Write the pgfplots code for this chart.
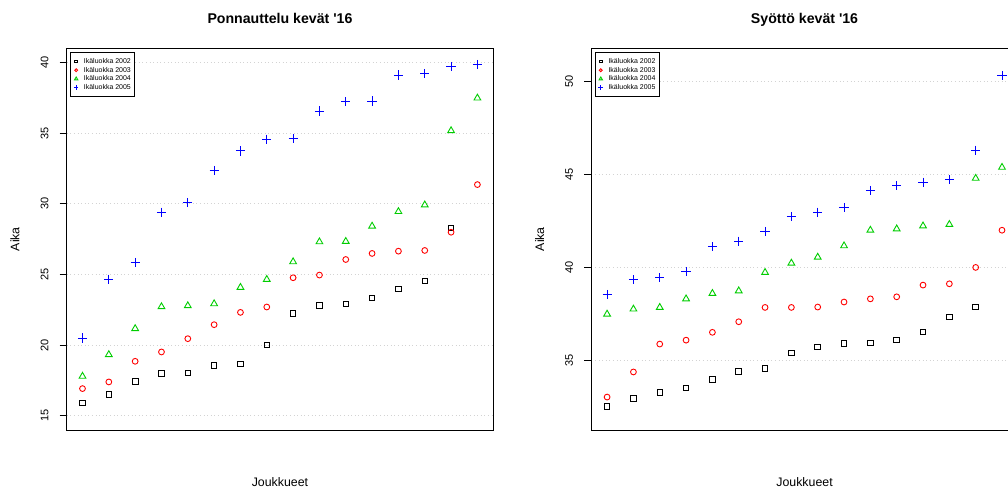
\documentclass[border=0pt]{standalone}
\usepackage{pgfplots}
\usepackage{pgfplotstable}
\pgfplotsset{compat=1.18}
\usepackage{fontspec}
\setmainfont{Liberation Sans}

\definecolor{rgreen}{RGB}{0,205,0}
\definecolor{rblue}{RGB}{0,0,255}
\definecolor{rgrid}{RGB}{211,211,211}

% Ponnauttelu: times per team, one column per age group
\pgfplotstableread{
x  y02   y03   y04   y05
1  15.92 16.93 17.80 20.51
2  16.53 17.40 19.33 24.67
3  17.42 18.86 21.17 25.85
4  18.01 19.52 22.72 29.41
5  18.04 20.46 22.79 30.07
6  18.58 21.45 22.93 32.35
7  18.67 22.32 24.09 33.74
8  20.01 22.70 24.65 34.56
9  22.25 24.77 25.90 34.63
10 22.82 24.96 27.31 36.56
11 22.91 26.06 27.34 37.22
12 23.33 26.49 28.42 37.27
13 23.99 26.65 29.45 39.11
14 24.53 26.70 29.92 39.20
15 28.30 27.99 35.17 39.72
16 nan   31.36 37.48 39.86
}\ponnauttelu

% Syotto: times per team, one column per age group
\pgfplotstableread{
x  y02   y03   y04   y05
1  32.51 33.01 37.47 38.53
2  32.92 34.36 37.74 39.31
3  33.25 35.86 37.83 39.42
4  33.50 36.07 38.29 39.74
5  33.96 36.49 38.58 41.09
6  34.39 37.06 38.72 41.39
7  34.55 37.83 39.71 41.91
8  35.39 37.83 40.21 42.72
9  35.70 37.85 40.53 42.95
10 35.90 38.12 41.14 43.20
11 35.91 38.29 41.98 44.11
12 36.09 38.40 42.05 44.38
13 36.52 39.03 42.21 44.56
14 37.31 39.10 42.29 44.70
15 37.86 39.98 44.77 46.28
16 nan   41.98 45.36 50.30
}\syotto

\pgfplotsset{
  panel/.style={
    scale only axis, width=426.5bp, height=381.7bp, anchor=south west,
    xmin=0.4, xmax=16.6, xtick=\empty,
    axis line style={line width=0.9bp},
    every tick/.style={line width=0.9bp, black},
    ytick align=outside, ytick pos=left, major tick length=7bp,
    ymajorgrids,
    grid style={line width=0.9bp, dash pattern=on 0.9bp off 2.7bp, color=rgrid},
    /pgf/number format/assume math mode=true,
    yticklabel style={xshift=-11bp, rotate=90, anchor=south, inner sep=0pt,
      font=\fontsize{11}{13}\selectfont},
    every axis y label/.style={at={(axis description cs:-0.1212,0.5)},
      rotate=90, anchor=center, font=\fontsize{12.4}{14}\selectfont},
    every axis x label/.style={at={(axis description cs:0.5,-0.1493)},
      anchor=base, font=\fontsize{12.4}{14}\selectfont},
    every axis title/.style={at={(axis description cs:0.5,1.0655)},
      anchor=base, font=\bfseries\fontsize{14.2}{17}\selectfont},
    xlabel={Joukkueet}, ylabel={Aika},
    only marks,
    legend cell align=left,
    legend style={at={(0.0077,0.990)}, anchor=north west, draw=black,
      line width=0.9bp, fill=white, inner xsep=2bp, inner ysep=4.6bp,
      font=\fontsize{7}{8}\selectfont, row sep=0pt, column sep=2.5bp,
      nodes={inner xsep=1.5bp, inner ysep=1.2bp, text height=5bp, text depth=1.3bp}},
    legend image code/.code={%
      \path (-3.3bp,0bp) (3.3bp,0bp);
      \draw[##1, mark options={scale=0.5}] plot coordinates {(0bp,0bp)};},
  },
  s02/.style={mark=square, mark size=2.8bp, color=black, line width=0.9bp,
    mark options={draw=black, fill=none}},
  s03/.style={mark=o, mark size=2.9bp, color=red, line width=0.9bp,
    mark options={draw=red, fill=none}},
  s04/.style={mark=triangle, mark size=3.9bp, color=rgreen, line width=0.9bp,
    mark options={draw=rgreen, fill=none}},
  s05/.style={mark=+, mark size=4.6bp, color=rblue, line width=0.9bp,
    mark options={draw=rblue, fill=none}},
}

\begin{document}
\begin{tikzpicture}
\useasboundingbox (0bp,0bp) rectangle (1008bp,492bp);
\clip (0bp,0bp) rectangle (1008bp,492bp);

\begin{axis}[panel, at={(66.7bp,62bp)},
  ymin=14, ymax=41, ytick={15,20,25,30,35,40},
  title={Ponnauttelu kevät \textquotesingle16}]
  \addplot[s02] table[x=x, y=y02] {\ponnauttelu};
  \addplot[s03] table[x=x, y=y03] {\ponnauttelu};
  \addplot[s04] table[x=x, y=y04] {\ponnauttelu};
  \addplot[s05] table[x=x, y=y05] {\ponnauttelu};
  \legend{Ikäluokka 2002, Ikäluokka 2003, Ikäluokka 2004, Ikäluokka 2005}
\end{axis}

\begin{axis}[panel, at={(591.3bp,62bp)},
  ymin=31.24, ymax=51.76, ytick={35,40,45,50},
  title={Syöttö kevät \textquotesingle16}]
  \addplot[s02] table[x=x, y=y02] {\syotto};
  \addplot[s03] table[x=x, y=y03] {\syotto};
  \addplot[s04] table[x=x, y=y04] {\syotto};
  \addplot[s05] table[x=x, y=y05] {\syotto};
  \legend{Ikäluokka 2002, Ikäluokka 2003, Ikäluokka 2004, Ikäluokka 2005}
\end{axis}
\end{tikzpicture}
\end{document}
